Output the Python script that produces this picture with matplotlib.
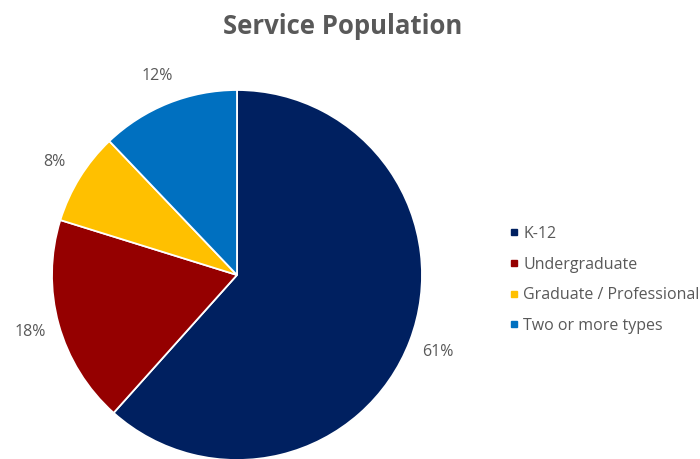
import matplotlib
matplotlib.use('Agg')
from matplotlib import pyplot as plt
from matplotlib.lines import Line2D

plt.rcParams['font.family'] = ['Open Sans', 'DejaVu Sans']

categories = ['K-12', 'Undergraduate', 'Graduate / Professional', 'Two or more types']
shares = [61, 18, 8, 12]
colors = ['#002060', '#950000', '#FFC000', '#0070C0']
text_gray = '#595959'

fig = plt.figure(figsize=(7, 4.59), dpi=100)

# pie axes: centre ~ (237, 275) px, radius ~185 px
ax = fig.add_axes([52 / 700, (459 - 275 - 185) / 459, 370 / 700, 370 / 459])
wedges, texts = ax.pie(
    shares, colors=colors, startangle=90, counterclock=False,
    labels=[f'{v}%' for v in shares], labeldistance=1.16, radius=1,
    wedgeprops=dict(edgecolor='white', linewidth=1.3),
    textprops=dict(color=text_gray, fontsize=11.5))
for t in texts:
    t.set_horizontalalignment('center')
    t.set_verticalalignment('center')
ax.set_xlim(-1, 1)
ax.set_ylim(-1, 1)
ax.set_aspect('auto')
for w in wedges:
    w.set_clip_on(False)

fig.text(343 / 700, 1 - 26 / 459, 'Service Population', ha='center', va='center',
         fontsize=18.5, fontweight='bold', color=text_gray)

handles = [Line2D([0], [0], marker='s', linestyle='', markersize=5,
                  markerfacecolor=c, markeredgecolor=c) for c in colors]
fig.legend(handles, categories, loc='center left', bbox_to_anchor=(0.704, 0.39),
           frameon=False, fontsize=11.5, labelcolor=text_gray, handletextpad=0.1,
           handlelength=0.9, labelspacing=0.92)

fig.savefig('out.png', dpi=100)
